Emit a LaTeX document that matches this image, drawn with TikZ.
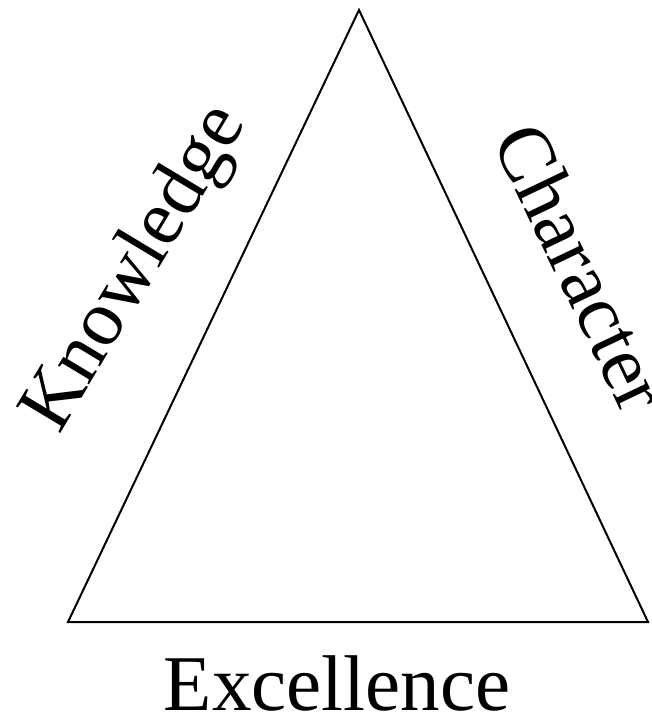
\documentclass[tikz,border=0pt]{standalone}
\usepackage{fontspec}
\setmainfont{Liberation Serif}
\begin{document}
\begin{tikzpicture}[x=1pt,y=-1pt,
  side/.style={line width=2pt,line join=miter},
  word/.style={font=\fontsize{79}{90}\selectfont,inner sep=0pt,anchor=base}]
\useasboundingbox (0,0) rectangle (651,714);
\coordinate (top) at (359,10);
\coordinate (bl) at (68,622);
\coordinate (br) at (648,622);
\draw[side] (top) -- (bl) -- (br) -- cycle;
\node[word,rotate=59] (know) at (153,279) {Knowledge};
\node[word,rotate=-64.5] (char) at (558,279) {Character};
\node[word] (exc) at (337,710) {Excellence};
\end{tikzpicture}
\end{document}
